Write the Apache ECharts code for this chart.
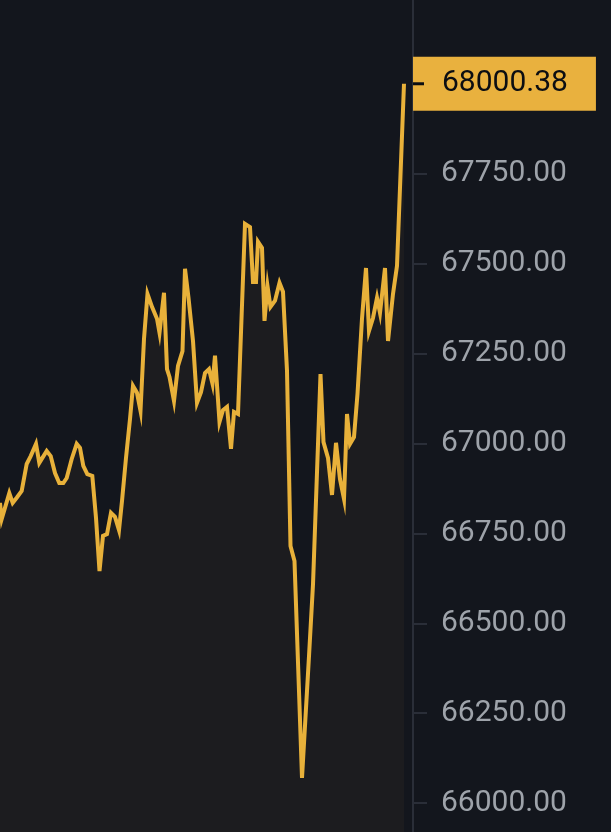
<!DOCTYPE html>
<html>
<head>
<meta charset="utf-8">
<script src="https://cdn.jsdelivr.net/npm/echarts@6/dist/echarts.min.js"></script>
<style>
  html, body { margin: 0; padding: 0; background: #13161d; }
  #chart { width: 611px; height: 832px; }
</style>
</head>
<body>
<div id="chart"></div>
<script>
// time offsets (min) and prices
const times = [
  0, 1.7, 9.3, 12.7, 16.7, 21.7, 26.7, 30.7, 36, 39.3,
  46.7, 50.7, 55, 59.3, 63.3, 66.7, 71.7, 76.7, 80, 83.3,
  87.3, 92.3, 96, 99.5, 103, 107, 111, 115, 119, 122,
  126, 130, 133, 137, 140.5, 144, 147.5, 152, 157, 159.5,
  164, 167, 169.5, 174, 178, 182.5, 185, 188.5, 193, 197,
  201, 205, 209, 212.5, 215, 217, 219.5, 223, 227, 231,
  234, 238, 245, 250, 253, 256, 258, 262, 264.5, 267.5,
  270.5, 275, 279.5, 283, 287, 290.5, 294.5, 302, 309, 313,
  320.5, 323.5, 328, 332, 334, 336, 340, 344, 347, 350,
  354, 357.5, 362, 366, 369, 373, 377, 380, 385, 388,
  393, 397, 404
]
const prices = [
  66835, 66790, 66862, 66835, 66849, 66868, 66943, 66965, 66999, 66946,
  66979, 66965, 66918, 66890, 66890, 66904, 66957, 66999, 66988, 66938,
  66915, 66910, 66793, 66645, 66743, 66748, 66807, 66796, 66759, 66840,
  66960, 67068, 67160, 67141, 67091, 67291, 67416, 67380, 67347, 67308,
  67419, 67207, 67185, 67118, 67216, 67257, 67486, 67405, 67285, 67113,
  67143, 67196, 67207, 67166, 67244, 67244, 67060, 67093, 67102, 66985,
  67088, 67082, 67611, 67602, 67449, 67449, 67561, 67544, 67341, 67438,
  67380, 67397, 67447, 67422, 67202, 66715, 66673, 66070, 66409, 66608,
  67193, 67004, 66960, 66857, 66857, 67002, 66901, 66846, 67082, 66999,
  67018, 67138, 67347, 67488, 67313, 67349, 67405, 67363, 67488, 67285,
  67416, 67494, 68000.38
]
const yMin = 65750
const yMax = 68250
const yStep = 250

const lastPrice = prices[prices.length - 1]
const seriesData = times.map((t, i) => [t, prices[i]])

const chart = echarts.init(document.getElementById('chart'))
chart.setOption({
  backgroundColor: '#13161d',
  animation: false,
  grid: {
    left: 0,
    right: 198,
    top: -6,
    bottom: -61,
    outerBoundsMode: 'none',
    containLabel: false
  },
  xAxis: {
    type: 'value',
    min: 0,
    max: 413,
    show: false
  },
  yAxis: {
    type: 'value',
    position: 'right',
    min: yMin,
    max: yMax,
    interval: yStep,
    axisLine: {
      show: true,
      onZero: false,
      lineStyle: { color: '#2a2e38', width: 2 }
    },
    axisTick: {
      show: true,
      length: 14,
      lineStyle: { color: '#2a2e38', width: 2 }
    },
    axisLabel: {
      margin: 28,
      color: '#9ea3aa',
      fontFamily: 'Roboto',
      fontSize: 30,
      showMinLabel: false,
      showMaxLabel: false,
      formatter: (v) => v.toFixed(2)
    },
    splitLine: { show: false }
  },
  series: [
    {
      type: 'line',
      data: seriesData,
      showSymbol: false,
      symbol: 'none',
      lineStyle: { color: '#e8b13a', width: 4, join: 'miter' },
      areaStyle: { color: '#1c1c1f', opacity: 1 },
      markLine: {
        silent: true,
        symbol: 'none',
        lineStyle: { color: 'rgba(0,0,0,0)', width: 0, type: 'solid' },
        data: [{ yAxis: lastPrice }],
        label: {
          show: true,
          position: 'end',
          distance: 0,
          backgroundColor: '#e9b13e',
          padding: 0,
          formatter: () => '{tk|}{v|' + lastPrice.toFixed(2) + '}',
          rich: {
            tk: { width: 11, height: 3, backgroundColor: '#0c0e12' },
            v: {
              fontFamily: 'Roboto',
              fontSize: 30,
              color: '#0c0e12',
              lineHeight: 54,
              padding: [0, 28, 0, 18]
            }
          }
        }
      }
    }
  ]
})
</script>
</body>
</html>
